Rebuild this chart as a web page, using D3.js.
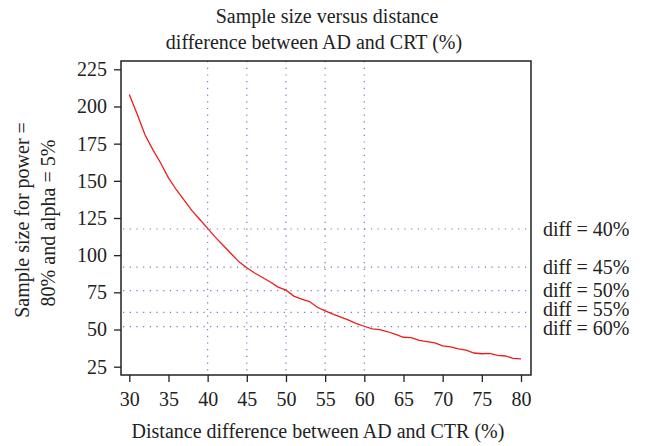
<!DOCTYPE html>
<html>
<head>
<meta charset="utf-8">
<script src="https://cdn.jsdelivr.net/npm/d3@7"></script>
</head>
<body style="margin:0">
<div id="chart"></div>
<script>
// distance difference (%) and sample size
var distance = [30, 31, 32, 33, 34, 35, 36, 37, 38, 39, 40, 41, 42, 43, 44, 45, 46, 47, 48, 49,
  50, 51, 52, 53, 54, 55, 56, 57, 58, 59, 60, 61, 62, 63, 64, 65, 66, 67, 68, 69,
  70, 71, 72, 73, 74, 75, 76, 77, 78, 79, 80];
var sampleSize = [208, 195, 181, 171, 162, 152, 144, 137, 130, 124, 118, 112, 106.5, 101, 95.5, 91.5, 88, 85, 82, 78.5,
  76.5, 72.5, 70.4, 68.8, 65, 62.5, 60.3, 58.4, 56.3, 54, 52.2, 50.5, 49.9, 48.5, 46.7, 44.8, 44.5, 42.7, 41.9, 41,
  39, 38.3, 37, 36.2, 34.2, 33.7, 34, 32.6, 32.2, 30.6, 30.2];

// reference lines
var diffX = [40, 45, 50, 55, 60];
var diffY = [117.6, 91.9, 76.1, 61.6, 51.9];
var diffLabels = ["diff = 40%", "diff = 45%", "diff = 50%", "diff = 55%", "diff = 60%"];

var xTicks = [30, 35, 40, 45, 50, 55, 60, 65, 70, 75, 80];
var yTicks = [25, 50, 75, 100, 125, 150, 175, 200, 225];

var width = 646, height = 446;
var frame = {left: 121, right: 531, top: 61, bottom: 375};

var x = d3.scaleLinear().domain([30, 80]).range([129.3, 521]);
var y = d3.scaleLinear().domain([25, 225]).range([366.7, 69.3]);

var svg = d3.select('#chart').append('svg')
  .attr('width', width).attr('height', height);

// dotted guide lines
var dotColor = '#7474c8';
svg.append('g').selectAll('line').data(diffX).join('line')
  .attr('x1', function (d) { return x(d); })
  .attr('x2', function (d) { return x(d); })
  .attr('y1', frame.top).attr('y2', frame.bottom)
  .attr('stroke', dotColor).attr('stroke-width', 1.2)
  .attr('stroke-dasharray', '1.2,5.5');

svg.append('g').selectAll('line').data(diffY).join('line')
  .attr('x1', frame.left + 2).attr('x2', frame.right)
  .attr('y1', function (d) { return y(d); })
  .attr('y2', function (d) { return y(d); })
  .attr('stroke', dotColor).attr('stroke-width', 1.2)
  .attr('stroke-dasharray', '1.2,5.5');

// curve
var points = distance.map(function (d, i) { return [d, sampleSize[i]]; });
svg.append('path')
  .datum(points)
  .attr('fill', 'none')
  .attr('stroke', '#ee1c1c')
  .attr('stroke-width', 1.3)
  .attr('d', d3.line()
    .x(function (d) { return x(d[0]); })
    .y(function (d) { return y(d[1]); }));

// frame
svg.append('rect')
  .attr('x', frame.left).attr('y', frame.top)
  .attr('width', frame.right - frame.left)
  .attr('height', frame.bottom - frame.top)
  .attr('fill', 'none').attr('stroke', '#222').attr('stroke-width', 1.5);

// axes
var xAxis = svg.append('g')
  .attr('transform', 'translate(0,' + frame.bottom + ')')
  .call(d3.axisBottom(x).tickValues(xTicks).tickSize(7).tickPadding(10).tickSizeOuter(0));
var yAxis = svg.append('g')
  .attr('transform', 'translate(' + frame.left + ',0)')
  .call(d3.axisLeft(y).tickValues(yTicks).tickSize(7).tickPadding(7).tickSizeOuter(0));
xAxis.select('.domain').remove();
yAxis.select('.domain').remove();
svg.selectAll('.tick line').attr('stroke', '#222').attr('stroke-width', 1.3);

// right labels, spread apart where they collide
var labelY = diffY.map(function (d) { return y(d); });
for (var k = 0; k < 4; k++) {
  for (var i = 1; i < labelY.length; i++) {
    var gap = labelY[i] - labelY[i - 1];
    if (gap < 19) {
      var push = (19 - gap) / 2;
      labelY[i - 1] -= push;
      labelY[i] += push;
    }
  }
}
svg.append('g').selectAll('text').data(diffLabels).join('text')
  .attr('x', 543)
  .attr('y', function (d, i) { return labelY[i] + 6.5; })
  .text(function (d) { return d; });

// titles
svg.append('text').attr('x', 327).attr('y', 23).attr('text-anchor', 'middle')
  .text('Sample size versus distance');
svg.append('text').attr('x', 314).attr('y', 49).attr('text-anchor', 'middle')
  .text('difference between AD and CRT (%)');

svg.append('text').attr('x', 318).attr('y', 438).attr('text-anchor', 'middle')
  .text('Distance difference between AD and CTR (%)');

svg.append('text').attr('transform', 'translate(29,220) rotate(-90)')
  .attr('text-anchor', 'middle')
  .text('Sample size for power =');
svg.append('text').attr('transform', 'translate(55,223) rotate(-90)')
  .attr('text-anchor', 'middle')
  .text('80% and alpha = 5%');

// one font for every text
svg.selectAll('g').attr('font-family', null).attr('font-size', null);
svg.selectAll('text')
  .attr('font-family', 'Liberation Serif')
  .attr('font-size', 20)
  .attr('fill', '#222')
  .style('font-family', '"Liberation Serif"');
</script>
</body>
</html>
